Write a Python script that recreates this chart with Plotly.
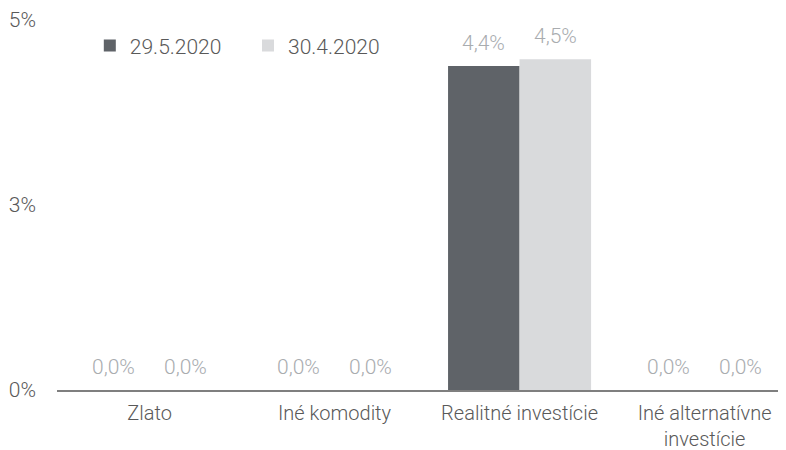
import plotly.graph_objects as go

categories = ["Zlato", "Iné komodity", "Realitné investície", "Iné alternatívne<br>investície"]
series_names = ["29.5.2020", "30.4.2020"]
values_may = [0.0, 0.0, 4.38, 0.0]
values_apr = [0.0, 0.0, 4.47, 0.0]
y_tickvals = [0, 2.5, 5]
y_ticktext = ["0%", "3%", "5%"]

colors = ["#5f6368", "#d9dadc"]
FONT = "Roboto"
SIZE = 21
BARGAP = 0.227

def fmt(v):
    return f"{v:.1f}%".replace(".", ",")

fig = go.Figure()
series = [values_may, values_apr]
for i, (name, vals, col) in enumerate(zip(series_names, series, colors)):
    fig.add_trace(go.Bar(
        x=categories, y=vals, name=name, marker_color=col, marker_line_width=0,
        legend="legend" if i == 0 else "legend2",
    ))

# data labels placed above each bar of the group
bar_w = (1 - BARGAP) / len(series)
for s, vals in enumerate(series):
    offset = (s - (len(series) - 1) / 2) * bar_w
    for c, v in enumerate(vals):
        fig.add_annotation(x=c + offset, y=v, xref="x", yref="y", text=fmt(v),
                           showarrow=False, yanchor="bottom", yshift=9,
                           font=dict(family=FONT, size=SIZE, color="#a9acaf", weight=300))

legend_common = dict(orientation="h", yanchor="middle", xanchor="left",
                     font=dict(family=FONT, size=SIZE, color="#595959", weight=300),
                     itemwidth=30, bgcolor="rgba(0,0,0,0)")

# the page body adds an 8px offset, so the figure is 8px smaller than the window
fig.update_layout(
    width=778, height=442,
    margin=dict(l=49, r=0, t=12, b=60, autoexpand=False),
    paper_bgcolor="white", plot_bgcolor="white",
    barmode="group", bargap=BARGAP, bargroupgap=0,
    font=dict(family=FONT, size=SIZE, color="#595959", weight=300),
    showlegend=True,
    legend=dict(x=0.045, y=0.93, **legend_common),
    legend2=dict(x=0.262, y=0.93, **legend_common),
)
fig.update_xaxes(range=[-0.5, 3.44], showline=True, linecolor="#7f7f7f", linewidth=2,
                 showgrid=False, ticks="", automargin=False, ticklabelstandoff=4,
                 tickfont=dict(family=FONT, size=20, color="#595959", weight=300))
fig.update_yaxes(range=[0, 5], tickvals=y_tickvals, ticktext=y_ticktext, showgrid=False,
                 zeroline=False, showline=False, ticks="", ticklabelstandoff=20, automargin=False,
                 tickfont=dict(family=FONT, size=SIZE, color="#595959", weight=300))

fig.write_html("out.html")
